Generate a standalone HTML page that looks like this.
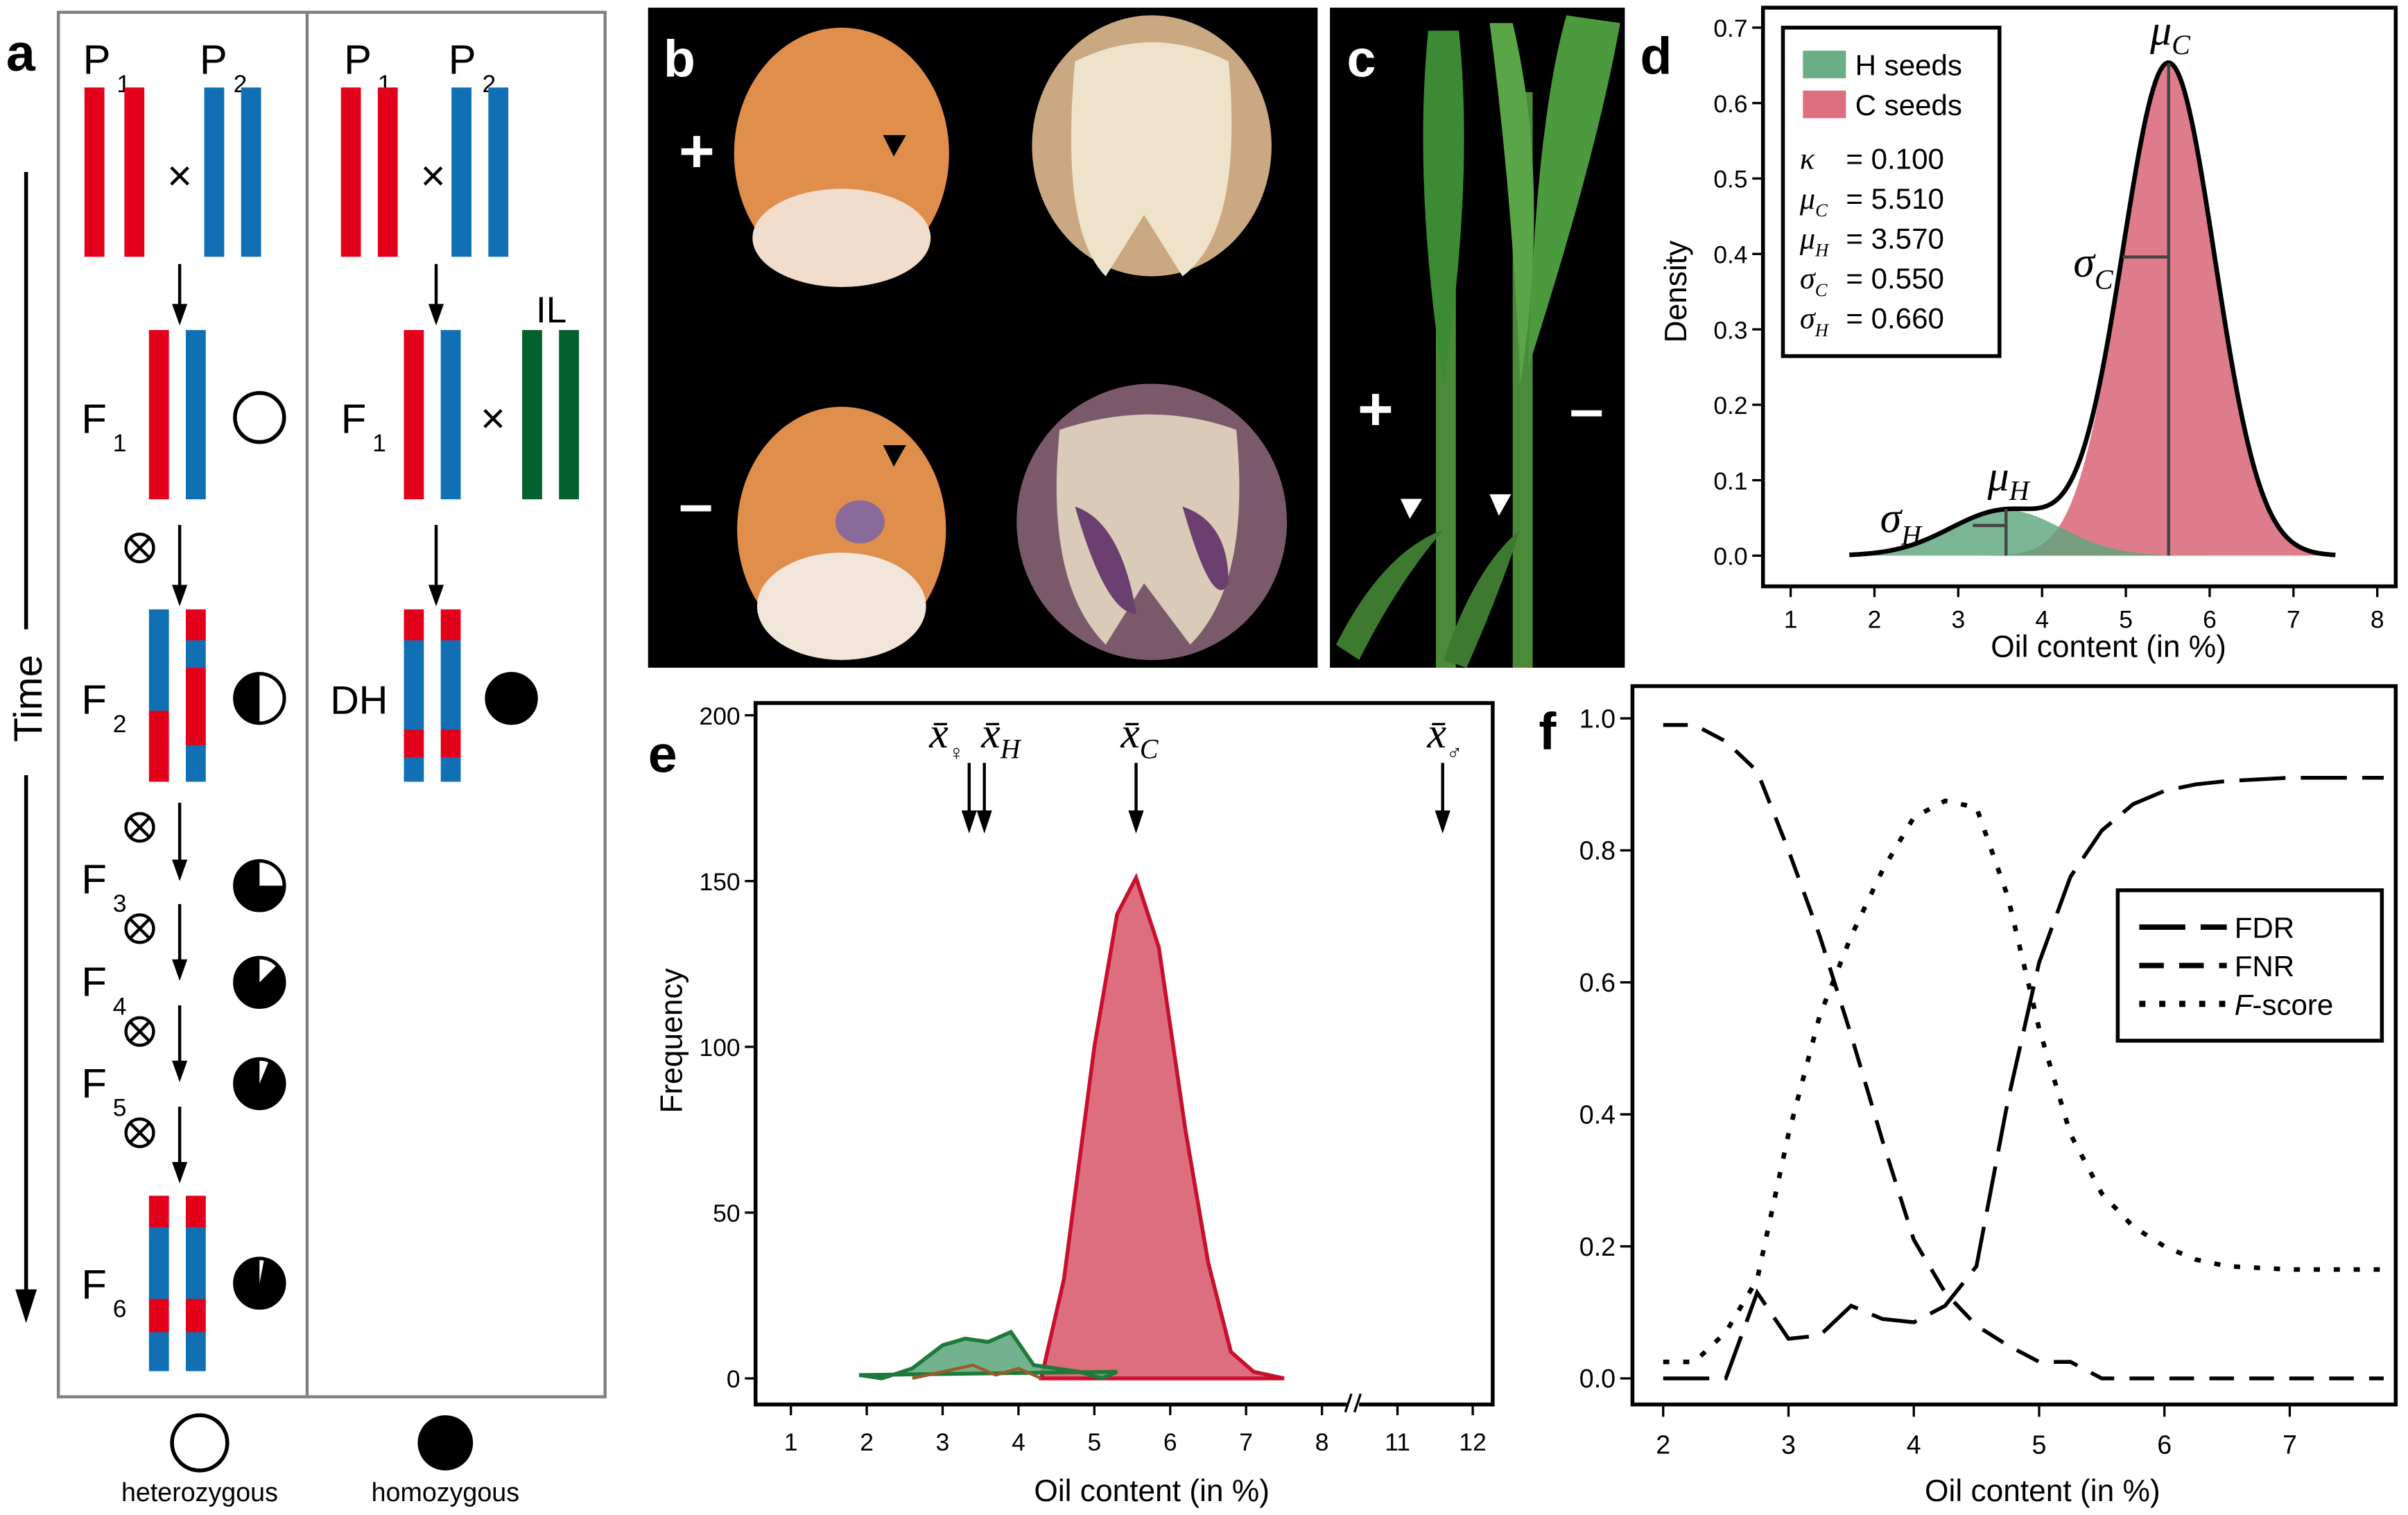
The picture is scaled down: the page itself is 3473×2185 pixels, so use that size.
<!DOCTYPE html>
<html><head><meta charset="utf-8"><style>
html,body{margin:0;padding:0;background:#fff}
svg{display:block}
text{font-family:"Liberation Sans",sans-serif;fill:#000}
.ser{font-family:"Liberation Serif",serif;font-style:italic}
</style></head><body>
<svg id="fig" width="3473" height="2185" viewBox="0 0 1568 987" preserveAspectRatio="none" xmlns="http://www.w3.org/2000/svg">
<g>
<text x="4" y="46" font-size="34" font-weight="bold">a</text>
<rect x="38" y="8" width="356" height="902" fill="none" stroke="#808080" stroke-width="2"/>
<line x1="200" y1="8" x2="200" y2="910" stroke="#808080" stroke-width="2"/>
<line x1="17" y1="112" x2="17" y2="410" stroke="#000" stroke-width="2.5"/>
<text transform="translate(27,455) rotate(-90)" font-size="26" text-anchor="middle">Time</text>
<line x1="17" y1="505" x2="17" y2="845" stroke="#000" stroke-width="2.5"/>
<polygon points="10,840 24,840 17,862" fill="#000"/>
<g id="agen"></g>
<circle cx="130" cy="940" r="18" fill="none" stroke="#000" stroke-width="2.5"/>
<circle cx="290" cy="940" r="18" fill="#000"/>
<text x="130" y="978" font-size="17" text-anchor="middle">heterozygous</text>
<text x="290" y="978" font-size="17" text-anchor="middle">homozygous</text>
</g>
<g>
<rect x="422" y="5" width="436" height="430" fill="#000"/>
<ellipse cx="548" cy="100" rx="70" ry="82" fill="#e08e4c"/>
<ellipse cx="548" cy="155" rx="58" ry="32" fill="#f2dccb"/>
<ellipse cx="750" cy="95" rx="78" ry="85" fill="#c9a882"/>
<path d="M700 40 Q690 150 720 180 L745 140 L770 180 Q810 150 800 40 Q750 15 700 40Z" fill="#efe2cb"/>
<ellipse cx="548" cy="345" rx="68" ry="80" fill="#e08e4c"/>
<ellipse cx="548" cy="395" rx="55" ry="35" fill="#f2e6da"/>
<ellipse cx="560" cy="340" rx="16" ry="14" fill="#8a6a9a"/>
<ellipse cx="750" cy="340" rx="88" ry="90" fill="#7a5a6a"/>
<path d="M690 280 Q680 380 720 420 L745 380 L775 420 Q815 380 805 280 Q750 260 690 280Z" fill="#d9cbb8"/>
<path d="M700 330 Q720 400 740 400 Q730 340 700 330Z" fill="#6b3f6f"/>
<path d="M770 330 Q790 400 800 380 Q800 340 770 330Z" fill="#6b3f6f"/>
<text x="442" y="112" font-size="40" style="fill:#fff" font-weight="bold">+</text>
<text x="442" y="342" font-size="40" style="fill:#fff" font-weight="bold">–</text>
<text x="432" y="50" font-size="34" font-weight="bold" style="fill:#fff">b</text>
<polygon points="575,88 590,88 582,102" fill="#000"/>
<polygon points="575,290 590,290 582,304" fill="#000"/>
</g>
<g>
<rect x="866" y="5" width="192" height="430" fill="#000"/>
<path d="M935 435 L935 60 L948 60 L948 435Z" fill="#4a8a3a"/>
<path d="M985 435 L985 60 L998 60 L998 435Z" fill="#4a8a3a"/>
<path d="M930 20 Q920 120 940 250 Q960 120 950 20Z" fill="#3d8a35"/>
<path d="M1020 10 Q1000 80 995 240 Q1040 100 1055 15Z" fill="#4c9a3e"/>
<path d="M970 15 Q985 130 990 250 Q1010 120 985 15Z" fill="#5aa547"/>
<path d="M870 420 Q900 360 940 345 Q910 380 885 430Z" fill="#3d7a30"/>
<path d="M940 430 Q960 370 990 345 Q975 390 955 435Z" fill="#3d7a30"/>
<text x="884" y="280" font-size="40" style="fill:#fff" font-weight="bold">+</text>
<text x="1022" y="280" font-size="40" style="fill:#fff" font-weight="bold">–</text>
<text x="877" y="50" font-size="34" font-weight="bold" style="fill:#fff">c</text>
<polygon points="912,325 926,325 918,338" fill="#fff"/>
<polygon points="970,322 984,322 976,336" fill="#fff"/>
</g>
<g id="pd">
<text x="1068" y="48" font-size="34" font-weight="bold">d</text>
</g>
<g id="pe">
<text x="422" y="503" font-size="34" font-weight="bold">e</text>
</g>
<g id="pf">
<text x="1002" y="488" font-size="34" font-weight="bold">f</text>
</g>
</svg>
<script>
// ===== Panel d data =====
const dKappa = 0.1;
const dMuC = 5.51, dMuH = 3.57, dSigC = 0.55, dSigH = 0.66;
const dXTicks = [1,2,3,4,5,6,7,8];
const dYTicks = [0.0,0.1,0.2,0.3,0.4,0.5,0.6,0.7];
const dRange = [1.7, 7.5];
// ===== Panel e data =====
const eXTicks = [1,2,3,4,5,6,7,8];
const eXTicksBroken = [11,12];
const eYTicks = [0,50,100,150,200];
const eCx = [4.3,4.6,5.0,5.3,5.55,5.85,6.2,6.5,6.8,7.1,7.5];
const eCy = [0,30,100,140,151,130,75,35,8,2,0];
const eHx = [1.9,2.2,2.6,3.0,3.3,3.6,3.9,4.2,4.5,4.8,5.1,5.3];
const eHy = [1,0,3,10,12,11,14,4,3,2,0,2];
const eBx = [2.6,3.0,3.4,3.7,4.0,4.3];
const eBy = [0,2,4,1,3,0];
const eMarkerX = [3.35,3.55,5.55,11.6];
const eMarkerSub = ['♀','H','C','♂'];
// ===== Panel f data =====
const fX = [2,2.25,2.5,2.75,3,3.25,3.5,3.75,4,4.25,4.5,4.75,5,5.25,5.5,5.75,6,6.25,6.5,7,7.75];
const fFDR = [0,0,0,0.13,0.06,0.065,0.11,0.09,0.085,0.11,0.17,0.42,0.63,0.76,0.83,0.87,0.89,0.9,0.905,0.91,0.91];
const fFNR = [0.99,0.99,0.965,0.92,0.8,0.67,0.52,0.36,0.21,0.13,0.08,0.05,0.025,0.025,0,0,0,0,0,0,0];
const fF = [0.025,0.025,0.07,0.15,0.37,0.55,0.67,0.77,0.85,0.875,0.865,0.73,0.53,0.37,0.28,0.23,0.2,0.18,0.17,0.165,0.165];
const fXTicks = [2,3,4,5,6,7];
const fYTicks = [0.0,0.2,0.4,0.6,0.8,1.0];

const NS="http://www.w3.org/2000/svg";
function mk(parent,tag,attrs,txt){const e=document.createElementNS(NS,tag);for(const k in attrs)e.setAttribute(k,attrs[k]);if(txt!==undefined)e.textContent=txt;parent.appendChild(e);return e;}

(function(){
const g=document.getElementById('agen');
const R='#e2001a',B='#1170b4',G='#03612f';
function bar(x,y,h,segs,name){
  let yy=y;
  segs.forEach(s=>{const r=mk(g,'rect',{x:x,y:yy,width:13,height:h*s[0]+0.3,fill:s[1]});
  
  
  yy+=h*s[0];});
}
function arrow(x,y1,y2){mk(g,'line',{x1:x,y1:y1,x2:x,y2:y2-12,stroke:'#000','stroke-width':2});mk(g,'polygon',{points:`${x-5},${y2-14} ${x+5},${y2-14} ${x},${y2}`,fill:'#000'});}
function lab(x,y,m,s){const t=mk(g,'text',{x:x,y:y,'font-size':27});t.textContent=m;mk(t,'tspan',{'font-size':16,dy:12,dx:4},s);
  
  }
function cross(x,y){mk(g,'text',{x:x,y:y,'font-size':28,'text-anchor':'middle'},'×');}
function selfing(x,y){mk(g,'circle',{cx:x,cy:y,r:9,fill:'none',stroke:'#000','stroke-width':2});mk(g,'line',{x1:x-6,y1:y-6,x2:x+6,y2:y+6,stroke:'#000','stroke-width':2});mk(g,'line',{x1:x+6,y1:y-6,x2:x-6,y2:y+6,stroke:'#000','stroke-width':2});}
function pie(cx,cy,frac,name){
  const c=mk(g,'circle',{cx:cx,cy:cy,r:16,fill:frac>=1?'#fff':'#000',stroke:'#000','stroke-width':2.5});
  
  
  if(frac>0&&frac<1){const a=2*Math.PI*frac;const x2=cx+15*Math.sin(a),y2=cy-15*Math.cos(a);
    mk(g,'path',{d:`M${cx},${cy} L${cx},${cy-15} A15,15 0 ${frac>0.5?1:0},1 ${x2},${y2}Z`,fill:'#fff'});}
}
lab(54,48,'P','1');lab(130,48,'P','2');
bar(55,57,110,[[1,R]],'p1-chromosome');bar(81,57,110,[[1,R]],'p1-chromosome');
bar(133,57,110,[[1,B]],'p2-chromosome');bar(157,57,110,[[1,B]],'p2-chromosome');
cross(117,124);
arrow(117,172,212);
lab(53,282,'F','1');
bar(97,215,110,[[1,R]],'f1-chromosome');bar(121,215,110,[[1,B]],'f1-chromosome');
pie(169,272,1,'f1-heterozygosity');
selfing(91,357);arrow(117,342,395);
lab(53,465,'F','2');
bar(97,397,112,[[0.59,B],[0.41,R]],'f2-chromosome');
bar(121,397,112,[[0.18,R],[0.16,B],[0.45,R],[0.21,B]],'f2-chromosome');
pie(169,455,0.5,'f2-heterozygosity');
selfing(91,539);arrow(117,523,574);
lab(53,582,'F','3');pie(169,577,0.25,'f3-heterozygosity');
selfing(91,605);arrow(117,589,639);
lab(53,649,'F','4');pie(169,640,0.125,'f4-heterozygosity');
selfing(91,672);arrow(117,655,705);
lab(53,715,'F','5');pie(169,706,0.0625,'f5-heterozygosity');
selfing(91,738);arrow(117,721,771);
lab(53,846,'F','6');
bar(97,779,114,[[0.18,R],[0.41,B],[0.19,R],[0.22,B]],'f6-chromosome');
bar(121,779,114,[[0.18,R],[0.41,B],[0.19,R],[0.22,B]],'f6-chromosome');
pie(169,836,0.03,'f6-heterozygosity');
lab(224,48,'P','1');lab(292,48,'P','2');
bar(222,57,110,[[1,R]],'p1-chromosome');bar(246,57,110,[[1,R]],'p1-chromosome');
bar(294,57,110,[[1,B]],'p2-chromosome');bar(318,57,110,[[1,B]],'p2-chromosome');
cross(282,124);arrow(284,172,212);
lab(222,282,'F','1');
bar(263,215,110,[[1,R]],'f1-chromosome');bar(287,215,110,[[1,B]],'f1-chromosome');
cross(321,282);
mk(g,'text',{x:349,y:210,'font-size':24},'IL');
bar(340,215,110,[[1,G]],'il-chromosome');bar(364,215,110,[[1,G]],'il-chromosome');
arrow(284,342,395);
mk(g,'text',{x:215,y:465,'font-size':26},'DH');
bar(263,397,112,[[0.18,R],[0.52,B],[0.16,R],[0.14,B]],'dh-chromosome');
bar(287,397,112,[[0.18,R],[0.52,B],[0.16,R],[0.14,B]],'dh-chromosome');
pie(333,455,0,'dh-homozygosity');
})();

(function(){
const g=document.getElementById('pd');
const X0=1148,X1=1560,Y0=5,Y1=382;
const sx=v=>1166+(v-1)*(1548-1166)/7, sy=v=>362-v*(362-18)/0.7;
const npdf=(x,m,s)=>Math.exp(-0.5*((x-m)/s)**2)/(s*Math.sqrt(2*Math.PI));
const fH=x=>dKappa*npdf(x,dMuH,dSigH), fC=x=>(1-dKappa)*npdf(x,dMuC,dSigC);
const xs=[];for(let i=0;i<=200;i++)xs.push(dRange[0]+(dRange[1]-dRange[0])*i/200);
const area=f=>'M'+sx(xs[0])+','+sy(0)+xs.map(x=>'L'+sx(x)+','+sy(f(x))).join('')+'L'+sx(xs[xs.length-1])+','+sy(0)+'Z';
let p=mk(g,'path',{d:area(fC),fill:'#dc6e7e','fill-opacity':0.9});


p=mk(g,'path',{d:area(fH),fill:'#5aa57a','fill-opacity':0.8});


p=mk(g,'path',{d:'M'+xs.map(x=>sx(x)+','+sy(fH(x)+fC(x))).join('L'),fill:'none',stroke:'#000','stroke-width':3});


const pc=fC(dMuC), ph=fH(dMuH)+fC(dMuH);
mk(g,'line',{x1:sx(dMuC),y1:sy(0),x2:sx(dMuC),y2:sy(pc),stroke:'#444','stroke-width':2});
mk(g,'line',{x1:sx(dMuC-dSigC),y1:sy(npdf(dMuC+dSigC,dMuC,dSigC)*(1-dKappa)),x2:sx(dMuC),y2:sy(npdf(dMuC+dSigC,dMuC,dSigC)*(1-dKappa)),stroke:'#444','stroke-width':2});
mk(g,'line',{x1:sx(dMuH),y1:sy(0),x2:sx(dMuH),y2:sy(ph),stroke:'#444','stroke-width':2});
mk(g,'line',{x1:sx(dMuH-dSigH*0.6),y1:sy(0.04),x2:sx(dMuH),y2:sy(0.04),stroke:'#444','stroke-width':2});
let t=mk(g,'text',{x:sx(dMuC)-12,y:sy(pc)-12,'font-size':28,class:'ser'},'μ');mk(t,'tspan',{'font-size':18,dy:6},'C');
t=mk(g,'text',{x:sx(dMuC-dSigC)-32,y:sy(0.37),'font-size':28,class:'ser'},'σ');mk(t,'tspan',{'font-size':18,dy:8},'C');
t=mk(g,'text',{x:sx(dMuH)-12,y:sy(ph)-12,'font-size':28,class:'ser'},'μ');mk(t,'tspan',{'font-size':18,dy:6},'H');
t=mk(g,'text',{x:sx(dMuH)-82,y:sy(0.035)+2,'font-size':28,class:'ser'},'σ');mk(t,'tspan',{'font-size':18,dy:8},'H');
mk(g,'rect',{x:X0,y:Y0,width:X1-X0,height:Y1-Y0,fill:'none',stroke:'#000','stroke-width':2.5});
dXTicks.forEach(v=>{mk(g,'line',{x1:sx(v),y1:Y1,x2:sx(v),y2:Y1+7,stroke:'#000','stroke-width':1.5});
 const tt=mk(g,'text',{x:sx(v),y:Y1+27,'font-size':16,'text-anchor':'middle'},v);
 
 });
dYTicks.forEach(v=>{mk(g,'line',{x1:X0,y1:sy(v),x2:X0-7,y2:sy(v),stroke:'#000','stroke-width':1.5});
 const tt=mk(g,'text',{x:X0-10,y:sy(v)+6,'font-size':16,'text-anchor':'end'},v.toFixed(1));
 
 });
t=mk(g,'text',{x:1373,y:428,'font-size':20,'text-anchor':'middle'},'Oil content (in %)');

t=mk(g,'text',{transform:'translate(1098,190) rotate(-90)','font-size':20,'text-anchor':'middle'},'Density');

const lg=mk(g,'g',{});


mk(lg,'rect',{x:1161,y:18,width:141,height:214,fill:'#fff',stroke:'#000','stroke-width':2.5});
mk(lg,'rect',{x:1174,y:33,width:28,height:18,fill:'#6aae86'});
mk(lg,'rect',{x:1174,y:59,width:28,height:18,fill:'#dc6e7e'});
mk(lg,'text',{x:1208,y:49,'font-size':19},'H seeds');
mk(lg,'text',{x:1208,y:75,'font-size':19},'C seeds');
const rows=[['κ','',dKappa],['μ','C',dMuC],['μ','H',dMuH],['σ','C',dSigC],['σ','H',dSigH]];
rows.forEach((r,i)=>{const y=110+i*26;const tt=mk(lg,'text',{x:1172,y:y,'font-size':20,class:'ser'},r[0]);if(r[1])mk(tt,'tspan',{'font-size':12,dy:5},r[1]);
 mk(lg,'text',{x:1202,y:y,'font-size':19},'= '+r[2].toFixed(3));});
})();

(function(){
const g=document.getElementById('pe');
const X0=492,X1=972,Y0=458,Y1=915;
const sx=v=>v<=8?515+(v-1)*49.4:910+(v-11)*49, sy=v=>898-v*(898-466)/200;
const poly=(xa,ya)=>xa.map((x,i)=>sx(x)+','+sy(ya[i])).join(' ');
let p=mk(g,'polygon',{points:poly(eCx,eCy),fill:'#dc6e7e',stroke:'#c8102e','stroke-width':2.5});

p=mk(g,'polygon',{points:poly(eHx,eHy),fill:'#5aa57a','fill-opacity':0.85,stroke:'#1e7a3a','stroke-width':2.5});

p=mk(g,'polyline',{points:poly(eBx,eBy),fill:'none',stroke:'#9a5a2a','stroke-width':2});

mk(g,'rect',{x:X0,y:Y0,width:X1-X0,height:Y1-Y0,fill:'none',stroke:'#000','stroke-width':2.5});
eXTicks.concat(eXTicksBroken).forEach(v=>{mk(g,'line',{x1:sx(v),y1:Y1,x2:sx(v),y2:Y1+7,stroke:'#000','stroke-width':1.5});
 const tt=mk(g,'text',{x:sx(v),y:Y1+30,'font-size':16,'text-anchor':'middle'},v);
 });
eYTicks.forEach(v=>{mk(g,'line',{x1:X0,y1:sy(v),x2:X0-7,y2:sy(v),stroke:'#000','stroke-width':1.5});
 const tt=mk(g,'text',{x:X0-10,y:sy(v)+6,'font-size':16,'text-anchor':'end'},v);
 });
mk(g,'rect',{x:877,y:908,width:8,height:14,fill:'#fff'});
mk(g,'path',{d:'M876,920 L880,908 M882,920 L886,908',stroke:'#000','stroke-width':1.5});
eMarkerX.forEach((mx,i)=>{const x=sx(mx);
 const ar=mk(g,'line',{x1:x,y1:497,x2:x,y2:530,stroke:'#000','stroke-width':2});
 
 
 mk(g,'polygon',{points:`${x-5},${528} ${x+5},${528} ${x},${543}`,fill:'#000'});
 const tt=mk(g,'text',{x:x-(i==0?26:(i==1?2:10)),y:487,'font-size':28,class:'ser'},'x̄');
 if(i==1||i==2)mk(tt,'tspan',{'font-size':18,dy:7},eMarkerSub[i]);else mk(tt,'tspan',{'font-size':14,dy:8,style:'font-style:normal'},eMarkerSub[i]);
 });
let t=mk(g,'text',{x:750,y:978,'font-size':20,'text-anchor':'middle'},'Oil content (in %)');

t=mk(g,'text',{transform:'translate(444,678) rotate(-90)','font-size':20,'text-anchor':'middle'},'Frequency');

})();

(function(){
const g=document.getElementById('pf');
const X0=1063,X1=1560,Y0=447,Y1=915;
const sx=v=>1083+(v-2)*81.6, sy=v=>898-v*430;
const pts=ya=>fX.map((x,i)=>sx(x)+','+sy(ya[i])).join(' ');
let p=mk(g,'polyline',{points:pts(fFDR),fill:'none',stroke:'#000','stroke-width':2.5,'stroke-dasharray':'30 10'});

p=mk(g,'polyline',{points:pts(fFNR),fill:'none',stroke:'#000','stroke-width':2.5,'stroke-dasharray':'16 10'});

p=mk(g,'polyline',{points:pts(fF),fill:'none',stroke:'#000','stroke-width':3,'stroke-dasharray':'4 9'});

mk(g,'rect',{x:X0,y:Y0,width:X1-X0,height:Y1-Y0,fill:'none',stroke:'#000','stroke-width':2.5});
fXTicks.forEach(v=>{mk(g,'line',{x1:sx(v),y1:Y1,x2:sx(v),y2:Y1+8,stroke:'#000','stroke-width':1.5});
 const tt=mk(g,'text',{x:sx(v),y:Y1+32,'font-size':17,'text-anchor':'middle'},v);
 });
fYTicks.forEach(v=>{mk(g,'line',{x1:X0,y1:sy(v),x2:X0-8,y2:sy(v),stroke:'#000','stroke-width':1.5});
 const tt=mk(g,'text',{x:X0-11,y:sy(v)+6,'font-size':17,'text-anchor':'end'},v.toFixed(1));
 });
let t=mk(g,'text',{x:1330,y:978,'font-size':20,'text-anchor':'middle'},'Oil content (in %)');

const lg=mk(g,'g',{});


mk(lg,'rect',{x:1379,y:580,width:172,height:98,fill:'#fff',stroke:'#000','stroke-width':2.5});
[['FDR','30 10',2.5],['FNR','16 10',2.5],['F-score','4 9',3]].forEach((r,i)=>{const y=604+i*25;
 mk(lg,'line',{x1:1393,y1:y,x2:1450,y2:y,stroke:'#000','stroke-width':r[2]+1,'stroke-dasharray':r[1]});
 const tt=mk(lg,'text',{x:1455,y:y+7,'font-size':19});
 if(r[0]==='F-score'){mk(tt,'tspan',{style:'font-style:italic'},'F');mk(tt,'tspan',{},'-score');}else tt.textContent=r[0];});
})();
</script>
</body></html>
